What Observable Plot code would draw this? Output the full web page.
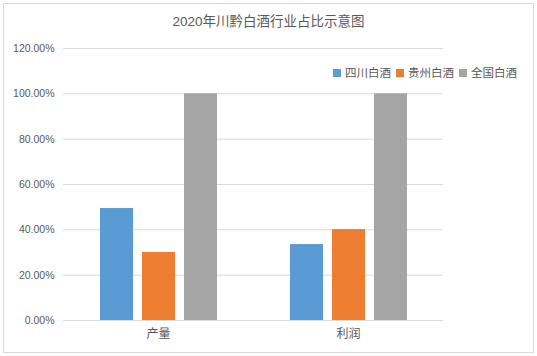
<!DOCTYPE html>
<html>
<head>
<meta charset="utf-8">
<script src="https://cdn.jsdelivr.net/npm/d3@7"></script>
<script src="https://cdn.jsdelivr.net/npm/@observablehq/plot@0.6"></script>
<style>
  html, body { margin: 0; padding: 0; background: #fff; }
  #wrap { position: relative; width: 537px; height: 356px; overflow: hidden;
          font-family: "Liberation Sans", "Noto Sans CJK SC", sans-serif; color: #595959; }
  #border { position: absolute; left: 3px; top: 3px; border: 1px solid #d9d9d9; box-sizing: border-box; width: 531px; height: 350px; }
  #title { position: absolute; left: 0; width: 537px; top: 13px; text-align: center; font-size: 13.5px; line-height: 18px; }
  #legend { position: absolute; left: 333px; top: 65px; display: flex; align-items: center; font-size: 11.5px; line-height: 16px; }
  #legend .item { display: flex; align-items: center; margin-right: 5px; }
  #legend .sw { width: 8px; height: 8px; margin-right: 4px; }
  #chart { position: absolute; left: 0; top: 0; }
</style>
</head>
<body>
<div id="wrap">
  <div id="border"></div>
  <div id="chart"></div>
  <div id="title">2020年川黔白酒行业占比示意图</div>
  <div id="legend"></div>
</div>
<script>
const categories = ["产量", "利润"];
const series = ["四川白酒", "贵州白酒", "全国白酒"];
const sichuan = [0.494, 0.335];
const guizhou = [0.300, 0.401];
const national = [1.000, 1.000];
const yTicks = [0, 0.2, 0.4, 0.6, 0.8, 1.0, 1.2];
const colors = ["#5b9bd5", "#ed7d31", "#a5a5a5"];

const valuesBySeries = [sichuan, guizhou, national];
const data = categories.flatMap((c, i) =>
  series.map((s, j) => ({category: c, series: s, value: valuesBySeries[j][i]}))
);

const chart = Plot.plot({
  width: 537,
  height: 356,
  marginTop: 48,
  marginBottom: 36,
  marginLeft: 63,
  marginRight: 94,
  style: {fontFamily: "'Liberation Sans', 'Noto Sans CJK SC', sans-serif", fontSize: "10.5px", color: "#595959", background: "transparent"},
  fx: {domain: categories, padding: 0, label: null},
  x: {domain: series, paddingInner: 0.2143, paddingOuter: 0.869, axis: null},
  y: {domain: [0, 1.2], label: null},
  color: {domain: series, range: colors},
  marks: [
    Plot.gridY(yTicks, {stroke: "#d9d9d9", strokeOpacity: 1, strokeWidth: 1}),
    Plot.barY(data, {fx: "category", x: "series", y: "value", fill: "series"}),
    Plot.axisY(yTicks, {tickSize: 0, tickPadding: 9, tickFormat: d => (d * 100).toFixed(2) + "%", label: null, fill: "#595959"}),
    Plot.axisFx({anchor: "bottom", tickSize: 0, tickPadding: 9, label: null, fontSize: 12, fill: "#595959"})
  ]
});
document.getElementById("chart").appendChild(chart);

const legend = document.getElementById("legend");
series.forEach((s, i) => {
  const item = document.createElement("div");
  item.className = "item";
  const sw = document.createElement("div");
  sw.className = "sw";
  sw.style.background = colors[i];
  const t = document.createElement("span");
  t.textContent = s;
  item.appendChild(sw);
  item.appendChild(t);
  legend.appendChild(item);
});
</script>
</body>
</html>
